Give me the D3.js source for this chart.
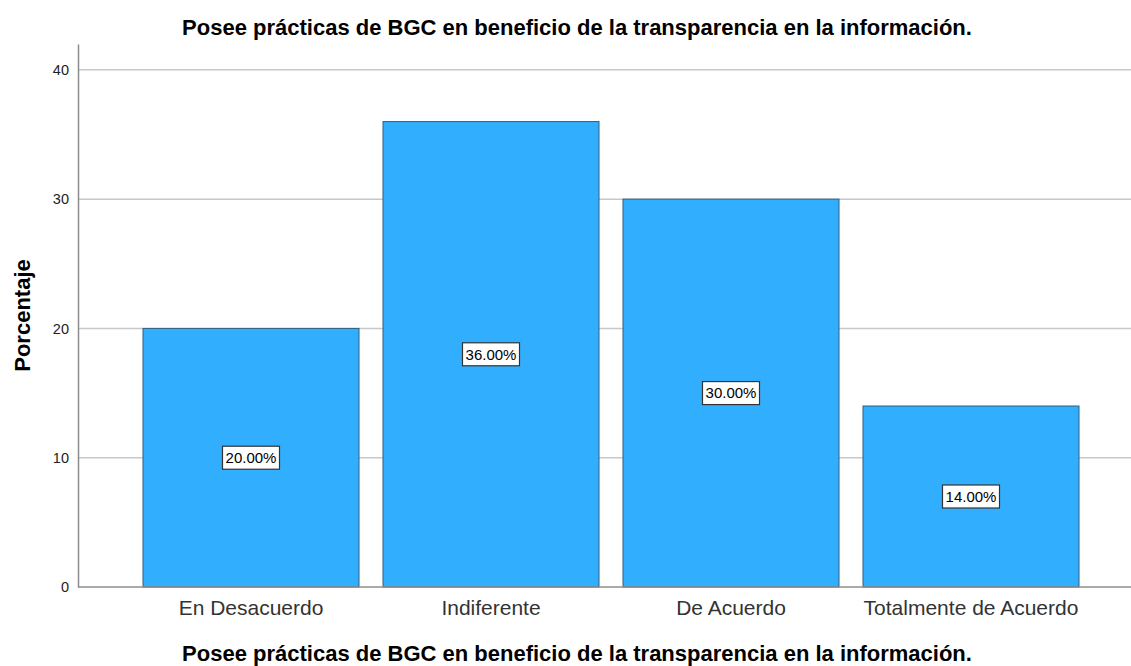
<!DOCTYPE html>
<html>
<head>
<meta charset="utf-8">
<script src="https://cdn.jsdelivr.net/npm/d3@7"></script>
<style>
  body { margin: 0; background: #fff; }
  text { font-family: "Liberation Sans", Arial, sans-serif; }
</style>
</head>
<body>
<div id="chart"></div>
<script>
const categories = ["En Desacuerdo", "Indiferente", "De Acuerdo", "Totalmente de Acuerdo"];
const percentages = [20, 36, 30, 14];
const yTicks = [0, 10, 20, 30, 40];
const chartTitle = "Posee prácticas de BGC en beneficio de la transparencia en la información.";

const width = 1131, height = 666;
const axisX = 78, plotRight = 1131, plotTop = 44, plotBottom = 587;

const svg = d3.select("#chart")
    .append("svg")
    .attr("width", width)
    .attr("height", height);

const xScale = d3.scaleBand()
    .domain(categories)
    .range([131, 1091])
    .paddingInner(0.1)
    .paddingOuter(0.05);

const yScale = d3.scaleLinear()
    .domain([0, 42])
    .range([plotBottom, plotTop]);

//gridlines
svg.append("g")
    .selectAll("line")
    .data(yTicks.filter(d => d > 0))
    .enter()
    .append("line")
    .attr("x1", axisX)
    .attr("x2", plotRight)
    .attr("y1", d => yScale(d))
    .attr("y2", d => yScale(d))
    .attr("stroke", "#c8c8c8")
    .attr("stroke-width", 1.5);

//bars
svg.append("g")
    .selectAll("rect")
    .data(percentages)
    .enter()
    .append("rect")
    .attr("x", (d, i) => xScale(categories[i]))
    .attr("y", d => yScale(d))
    .attr("width", xScale.bandwidth())
    .attr("height", d => yScale(0) - yScale(d))
    .attr("fill", "#32aefe")
    .attr("stroke", "#2f5f80")
    .attr("stroke-width", 1);

//y axis (no tick marks)
const yAxis = svg.append("g")
    .attr("transform", `translate(${axisX},0)`)
    .call(d3.axisLeft(yScale).tickValues(yTicks).tickSize(0).tickPadding(9));
yAxis.select(".domain").attr("stroke", "#8c8c8c").attr("stroke-width", 1.5);
yAxis.selectAll("text")
    .attr("font-size", "14.5px")
    .attr("fill", "#222");

//x axis
const xAxis = svg.append("g")
    .attr("transform", `translate(0,${plotBottom})`)
    .call(d3.axisBottom(xScale).tickSize(0).tickPadding(13).tickSizeOuter(0));
xAxis.select(".domain").remove();
xAxis.selectAll("text")
    .attr("font-size", "21px")
    .attr("fill", "#333");
svg.append("line")
    .attr("x1", axisX)
    .attr("x2", plotRight)
    .attr("y1", plotBottom)
    .attr("y2", plotBottom)
    .attr("stroke", "#8c8c8c")
    .attr("stroke-width", 1.5);

//value labels
const labels = svg.append("g")
    .selectAll("g")
    .data(percentages)
    .enter()
    .append("g")
    .attr("transform", (d, i) => `translate(${xScale(categories[i]) + xScale.bandwidth() / 2},${yScale(d / 2)})`);

labels.append("rect")
    .attr("x", -28.5)
    .attr("y", -11.5)
    .attr("width", 57)
    .attr("height", 23)
    .attr("fill", "#fff")
    .attr("stroke", "#333")
    .attr("stroke-width", 1.2);

labels.append("text")
    .attr("text-anchor", "middle")
    .attr("dy", "0.36em")
    .attr("font-size", "15px")
    .attr("fill", "#000")
    .text(d => d.toFixed(2) + "%");

//title
svg.append("text")
    .attr("x", 577)
    .attr("y", 35)
    .attr("text-anchor", "middle")
    .attr("font-size", "22px")
    .attr("font-weight", "bold")
    .attr("fill", "#000")
    .text(chartTitle);

//x axis title
svg.append("text")
    .attr("x", 577)
    .attr("y", 661)
    .attr("text-anchor", "middle")
    .attr("font-size", "22px")
    .attr("font-weight", "bold")
    .attr("fill", "#000")
    .text(chartTitle);

//y axis title
svg.append("text")
    .attr("transform", `translate(30,${(plotTop + plotBottom) / 2}) rotate(-90)`)
    .attr("text-anchor", "middle")
    .attr("font-size", "22px")
    .attr("font-weight", "bold")
    .attr("fill", "#000")
    .text("Porcentaje");
</script>
</body>
</html>
